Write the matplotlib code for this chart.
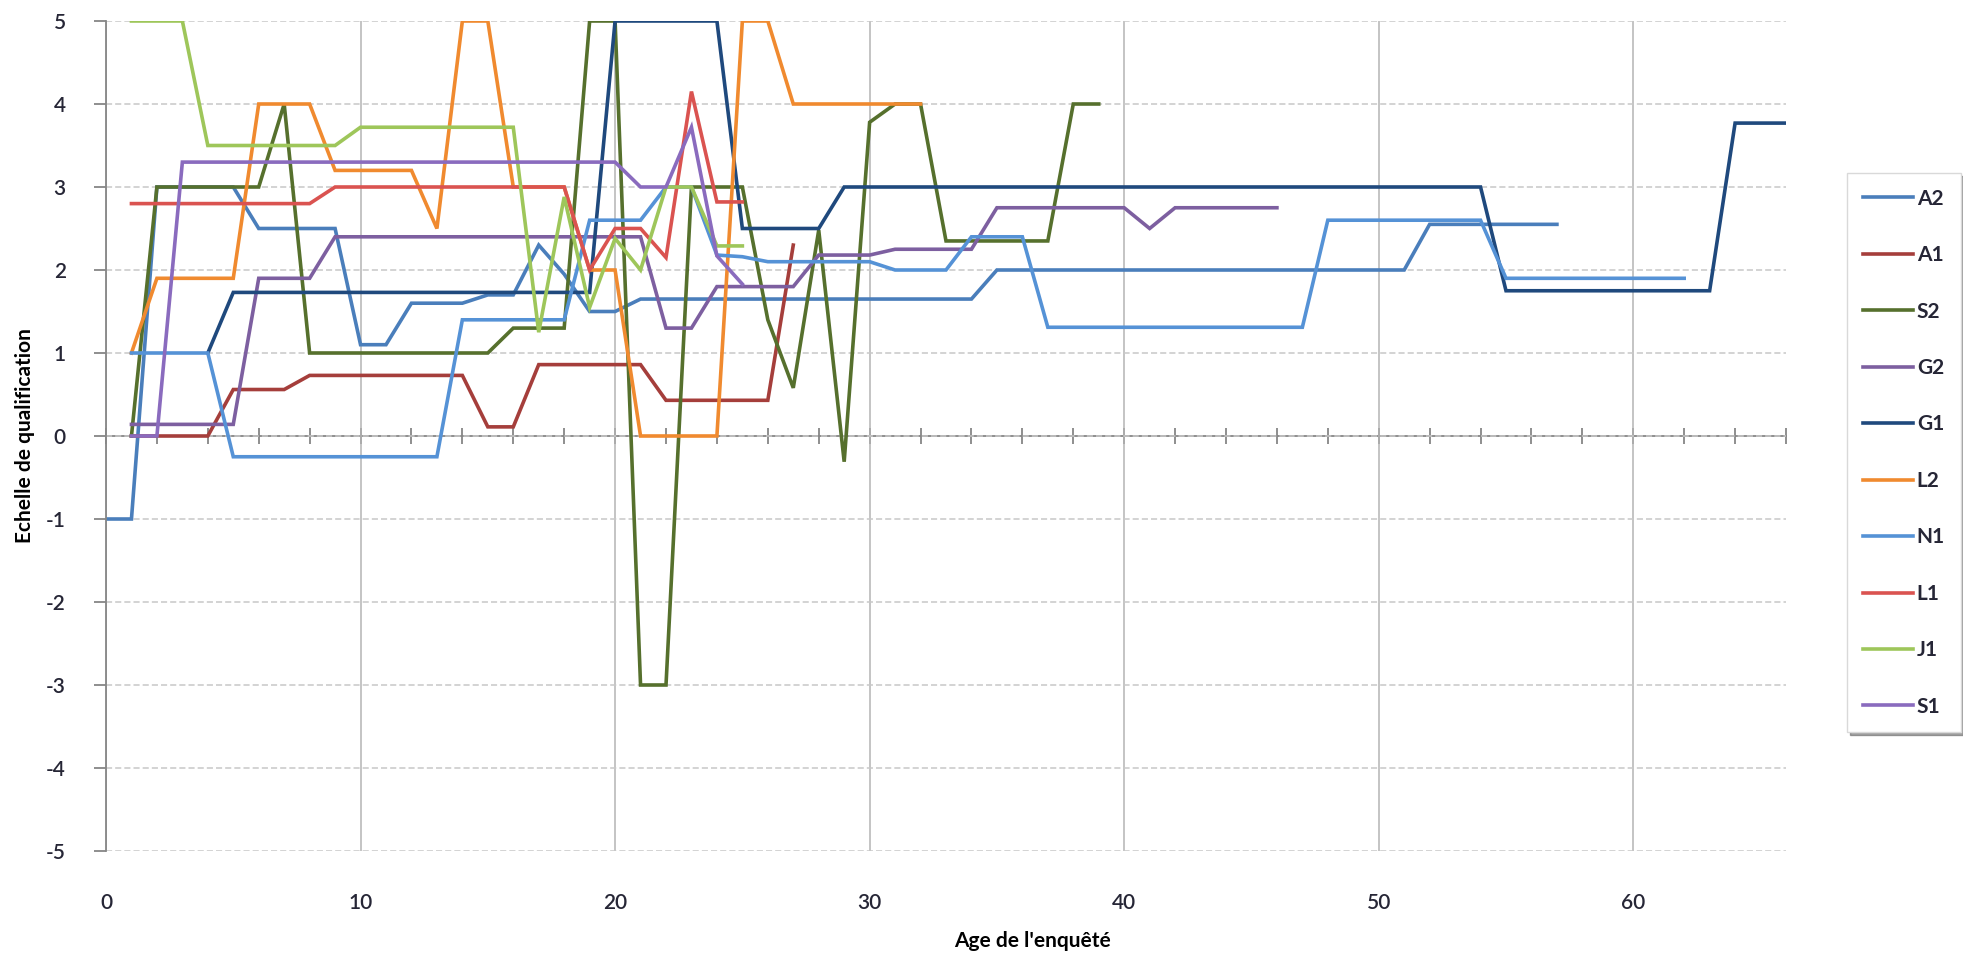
import numpy as np
import matplotlib
matplotlib.use('Agg')
import matplotlib.pyplot as plt

plt.rcParams['font.family'] = ['Lato', 'DejaVu Sans']
plt.rcParams['axes.unicode_minus'] = False

# series: age of respondent (x) vs qualification scale (y)
names = ['A2', 'A1', 'S2', 'G2', 'G1', 'L2', 'N1', 'L1', 'J1', 'S1']

a2_x = [0, 1, 2, 5, 6, 9, 10, 11, 12, 14, 15, 16, 17, 18, 19, 20, 21, 34, 35, 51, 52, 57]
a2_y = [-1, -1, 3, 3, 2.5, 2.5, 1.1, 1.1, 1.6, 1.6, 1.7, 1.7, 2.3, 1.95, 1.5, 1.5, 1.65, 1.65, 2.0, 2.0, 2.55, 2.55]

a1_x = [1, 4, 5, 7, 8, 14, 15, 16, 17, 21, 22, 26, 27]
a1_y = [0, 0, 0.56, 0.56, 0.73, 0.73, 0.11, 0.11, 0.86, 0.86, 0.43, 0.43, 2.3]

s2_x = [1, 2, 6, 7, 8, 15, 16, 18, 19, 20, 21, 22, 23, 25, 26, 27, 28, 29, 30, 31, 32, 33, 37, 38, 39]
s2_y = [0, 3, 3, 4, 1, 1, 1.3, 1.3, 5, 5, -3, -3, 3, 3, 1.4, 0.58, 2.48, -0.31, 3.78, 4, 4, 2.35, 2.35, 4, 4]

g2_x = [1, 5, 6, 8, 9, 21, 22, 23, 24, 27, 28, 30, 31, 34, 35, 40, 41, 42, 46]
g2_y = [0.14, 0.14, 1.9, 1.9, 2.4, 2.4, 1.3, 1.3, 1.8, 1.8, 2.18, 2.18, 2.25, 2.25, 2.75, 2.75, 2.5, 2.75, 2.75]

g1_x = [4, 5, 19, 20, 24, 25, 28, 29, 54, 55, 63, 64, 66]
g1_y = [1, 1.73, 1.73, 5, 5, 2.5, 2.5, 3, 3, 1.75, 1.75, 3.77, 3.77]

l2_x = [1, 2, 5, 6, 8, 9, 12, 13, 14, 15, 16, 18, 19, 20, 21, 24, 25, 26, 27, 32]
l2_y = [1, 1.9, 1.9, 4, 4, 3.2, 3.2, 2.5, 5, 5, 3, 3, 2, 2, 0, 0, 5, 5, 4, 4]

n1_x = [1, 4, 5, 13, 14, 18, 19, 21, 22, 23, 24, 25, 26, 30, 31, 33, 34, 36, 37, 47, 48, 54, 55, 62]
n1_y = [1, 1, -0.25, -0.25, 1.4, 1.4, 2.6, 2.6, 3, 3, 2.18, 2.16, 2.1, 2.1, 2.0, 2.0, 2.4, 2.4, 1.31, 1.31, 2.6, 2.6, 1.9, 1.9]

l1_x = [1, 8, 9, 18, 19, 20, 21, 22, 23, 24, 25]
l1_y = [2.8, 2.8, 3, 3, 2, 2.5, 2.5, 2.15, 4.15, 2.82, 2.82]

j1_x = [1, 3, 4, 9, 10, 16, 17, 18, 19, 20, 21, 22, 23, 24, 25]
j1_y = [5, 5, 3.5, 3.5, 3.72, 3.72, 1.25, 2.88, 1.55, 2.38, 2.0, 3, 3, 2.29, 2.29]

s1_x = [1, 2, 3, 20, 21, 22, 23, 24, 25]
s1_y = [0, 0, 3.3, 3.3, 3, 3, 3.72, 2.17, 1.83]

xs = [a2_x, a1_x, s2_x, g2_x, g1_x, l2_x, n1_x, l1_x, j1_x, s1_x]
ys = [a2_y, a1_y, s2_y, g2_y, g1_y, l2_y, n1_y, l1_y, j1_y, s1_y]
colors = ['#4A7EBB', '#A53E3B', '#56702D', '#7D5FA0', '#1F497D',
          '#F08A2F', '#5592D6', '#DA5350', '#9EC65A', '#8A6BBE']

fig = plt.figure(figsize=(19.63, 9.56), dpi=100)
ax = fig.add_axes([106 / 1963, 105 / 956, 1680 / 1963, 830 / 956])

for x, y, c, n in zip(xs, ys, colors, names):
    ax.plot(x, y, color=c, lw=2.6, label=n, solid_joinstyle='miter')

ax.set_xlim(0, 66)
ax.set_ylim(-5, 5)

# gridlines: solid vertical every 10, dashed horizontal every 1
ax.set_xticks(np.arange(0, 61, 10))
ax.set_yticks(np.arange(-5, 6, 1))
ax.grid(axis='x', color='#B4B4B4', lw=1.1, zorder=0)
ax.grid(axis='y', color='#C8C8C8', lw=1.1, linestyle=(0, (4, 2)), zorder=0)
ax.set_axisbelow(True)

for s in ['top', 'right', 'bottom']:
    ax.spines[s].set_visible(False)
ax.spines['left'].set_color('#868686')
ax.spines['left'].set_linewidth(1.3)

lab_color = '#262636'
ax.tick_params(axis='x', length=0, pad=30, labelsize=15, labelcolor=lab_color)
ax.tick_params(axis='y', direction='out', length=9, width=1.3, color='#868686',
               pad=20, labelsize=15, labelcolor=lab_color)
for t in ax.get_xticklabels() + ax.get_yticklabels():
    t.set_fontweight('semibold')

# horizontal axis crossing at y = 0 with ticks every 2 years
sec = ax.secondary_xaxis(0.5)
sec.set_xticks(np.arange(0, 67, 2))
sec.tick_params(axis='x', direction='inout', length=12, width=1.3, color='#868686',
                labeltop=False, labelbottom=False)
for s in sec.spines.values():
    s.set_color('#868686')
    s.set_linewidth(1.3)

fig.text(1032 / 1963, 1 - 941 / 956, "Age de l'enquêté", ha='center', va='center',
         fontsize=15, fontweight='bold', color='black')
fig.text(25 / 1963, 1 - 436 / 956, 'Echelle de qualification', ha='center', va='center',
         rotation=90, fontsize=15, fontweight='bold', color='black')

leg = fig.legend(loc='upper left', bbox_to_anchor=(1847 / 1963, 1 - 173 / 956),
                 borderaxespad=0, frameon=True, fancybox=False, shadow=True,
                 handlelength=2.4, handletextpad=0.2, labelspacing=1.75,
                 borderpad=0.75, prop={'size': 15, 'weight': 'bold'})
leg.get_frame().set_edgecolor('#D9D9D9')
leg.get_frame().set_linewidth(1.0)
for t in leg.get_texts():
    t.set_color(lab_color)

fig.savefig('out.png', dpi=100)
